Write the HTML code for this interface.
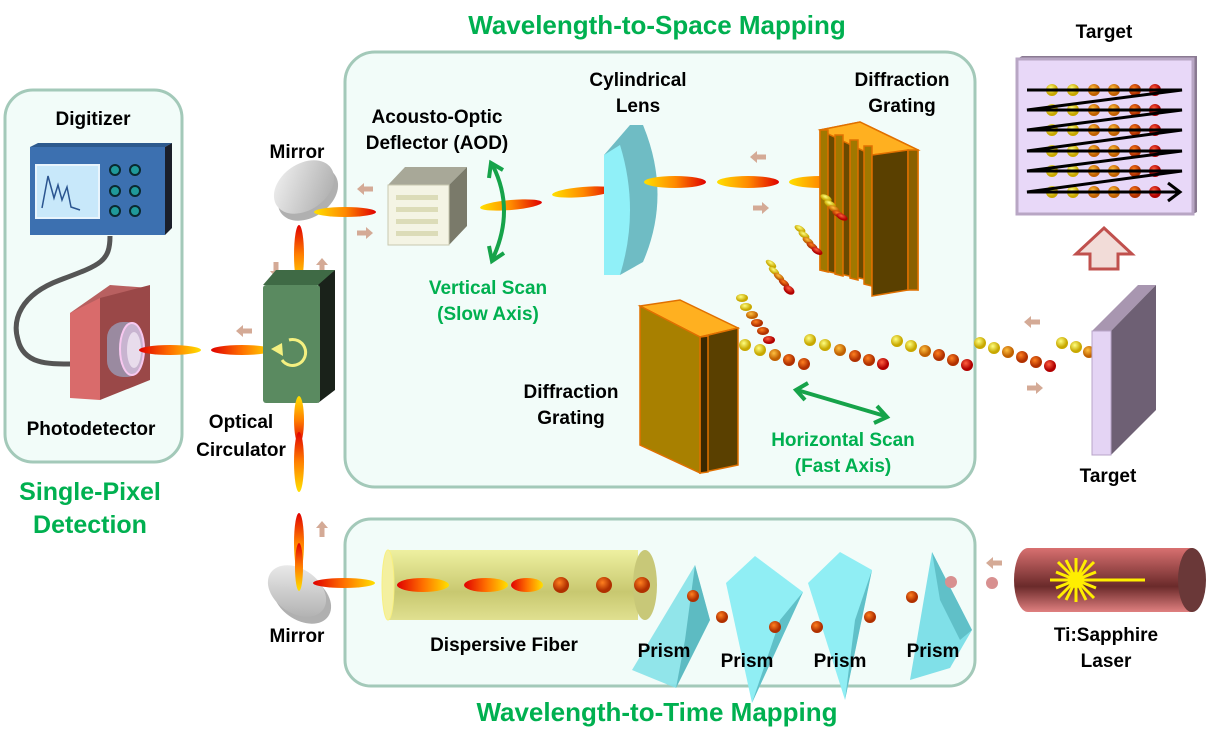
<!DOCTYPE html>
<html><head><meta charset="utf-8"><style>
body{margin:0;background:#fff}
svg{display:block}
text{font-family:"Liberation Sans",sans-serif;font-weight:bold}
</style></head><body>
<svg width="1211" height="746" viewBox="0 0 1211 746" xmlns="http://www.w3.org/2000/svg">
<defs>
<linearGradient id="p" x1="0" x2="1" y1="0" y2="0"><stop offset="0" stop-color="#ffe000"/><stop offset="0.5" stop-color="#ff8a00"/><stop offset="1" stop-color="#e00000"/></linearGradient>
<linearGradient id="pr" x1="0" x2="1"><stop offset="0" stop-color="#e00000"/><stop offset="0.5" stop-color="#ff7000"/><stop offset="1" stop-color="#ffe000"/></linearGradient>
<linearGradient id="pv" x1="0" x2="0" y1="0" y2="1"><stop offset="0" stop-color="#e00000"/><stop offset="0.5" stop-color="#ff8000"/><stop offset="1" stop-color="#ffe000"/></linearGradient>
<radialGradient id="by" cx="0.4" cy="0.35"><stop offset="0" stop-color="#ffff80"/><stop offset="1" stop-color="#c8a800"/></radialGradient>
<radialGradient id="bo" cx="0.4" cy="0.35"><stop offset="0" stop-color="#ffc040"/><stop offset="1" stop-color="#c06000"/></radialGradient>
<radialGradient id="brd" cx="0.4" cy="0.35"><stop offset="0" stop-color="#ff6040"/><stop offset="1" stop-color="#b00000"/></radialGradient>
<radialGradient id="bor" cx="0.4" cy="0.35"><stop offset="0" stop-color="#ff8020"/><stop offset="1" stop-color="#b03000"/></radialGradient>
<linearGradient id="fib" x1="0" x2="0" y1="0" y2="1"><stop offset="0" stop-color="#eef0a0"/><stop offset="0.6" stop-color="#c8c870"/><stop offset="1" stop-color="#e0e090"/></linearGradient>
<linearGradient id="las" x1="0" x2="0" y1="0" y2="1"><stop offset="0" stop-color="#d87070"/><stop offset="0.6" stop-color="#6a2a2a"/><stop offset="1" stop-color="#e08080"/></linearGradient>
<linearGradient id="mir" x1="0" x2="1" y1="0" y2="1"><stop offset="0" stop-color="#f4f4f4"/><stop offset="1" stop-color="#a8a8a8"/></linearGradient>
<g id="ar"><path d="M0,0 L7,-6 L7,-2.5 L16,-2.5 L16,2.5 L7,2.5 L7,6 Z" fill="#d4aa96"/></g>
<g id="rw"><circle cx="1052" cy="0" r="6" fill="url(#by)"/><circle cx="1073" cy="0" r="6" fill="url(#by)"/><circle cx="1094" cy="0" r="6" fill="url(#bo)"/><circle cx="1114" cy="0" r="6" fill="url(#bo)"/><circle cx="1135" cy="0" r="6" fill="url(#bor)"/><circle cx="1155" cy="0" r="6" fill="url(#brd)"/></g>
</defs>

<!-- boxes -->
<rect x="5" y="90" width="177" height="372" rx="28" fill="#f2fcf9" stroke="#a3c9b9" stroke-width="3"/>
<rect x="345" y="52" width="630" height="435" rx="30" fill="#f2fcf9" stroke="#a3c9b9" stroke-width="3"/>
<rect x="345" y="519" width="630" height="167" rx="26" fill="#f2fcf9" stroke="#a3c9b9" stroke-width="3"/>

<!-- titles -->
<text x="657" y="34" font-size="26" fill="#00b050" text-anchor="middle">Wavelength-to-Space Mapping</text>
<text x="657" y="721" font-size="26" fill="#00b050" text-anchor="middle">Wavelength-to-Time Mapping</text>
<text x="90" y="500" font-size="25" fill="#00b050" text-anchor="middle">Single-Pixel</text>
<text x="90" y="533" font-size="25" fill="#00b050" text-anchor="middle">Detection</text>

<!-- digitizer -->
<polygon points="30,147 38,143 172,143 165,147" fill="#2d5a8e"/>
<polygon points="165,147 172,143 172,228 165,235" fill="#1a1f2a"/>
<rect x="30" y="147" width="135" height="88" fill="#3c70b0"/>
<rect x="36" y="165" width="63" height="53" fill="#c8e8fa" stroke="#e8f4fc" stroke-width="2"/>
<path d="M42,208 L48,176 L54,198 L58,185 L62,200 L67,187 L71,207 L80,210" fill="none" stroke="#2b5590" stroke-width="1.5"/>
<g fill="#1f9a9a" stroke="#0a2a30" stroke-width="2">
<circle cx="115" cy="170" r="5"/><circle cx="135" cy="170" r="5"/>
<circle cx="115" cy="191" r="5"/><circle cx="135" cy="191" r="5"/>
<circle cx="115" cy="211" r="5"/><circle cx="135" cy="211" r="5"/></g>
<text x="93" y="125" font-size="19" text-anchor="middle">Digitizer</text>
<!-- cable -->
<path d="M110,236 C110,262 100,265 60,280 C20,295 12,320 18,340 C24,365 50,364 72,364" fill="none" stroke="#555" stroke-width="5"/>
<!-- photodetector -->
<polygon points="70,313 110,285 150,288 140,300" fill="#b86060"/>
<polygon points="100,298 150,285 150,380 100,400" fill="#9a4848"/>
<polygon points="70,313 100,298 100,400 70,398" fill="#d96b6b"/>
<rect x="107" y="322" width="36" height="55" rx="16" fill="#9a8aa0"/>
<ellipse cx="132" cy="349" rx="12" ry="26" fill="#c8b4d0" stroke="#f8c8f0" stroke-width="2"/>
<ellipse cx="134" cy="350" rx="7" ry="18" fill="#e8dcec"/>
<text x="91" y="435" font-size="19" text-anchor="middle">Photodetector</text>

<!-- pulses near photodetector / circulator -->
<ellipse cx="170" cy="350" rx="31" ry="5" fill="url(#pr)"/>
<ellipse cx="242" cy="350" rx="31" ry="5" fill="url(#pr)"/>
<use href="#ar" x="236" y="331"/>

<!-- top mirror -->
<ellipse cx="308" cy="194" rx="33" ry="23" transform="rotate(-35 308 194)" fill="#b0b0b0"/>
<ellipse cx="304" cy="187" rx="33" ry="23" transform="rotate(-35 304 187)" fill="url(#mir)"/>
<text x="297" y="158" font-size="19" text-anchor="middle">Mirror</text>
<ellipse cx="345" cy="212" rx="31" ry="5" fill="url(#p)"/>
<ellipse cx="299" cy="255" rx="5" ry="30" fill="url(#pv)"/>
<use href="#ar" transform="translate(276,278) rotate(-90)"/>
<use href="#ar" transform="translate(322,258) rotate(90)"/>
<use href="#ar" x="357" y="189"/>
<use href="#ar" transform="translate(373,233) rotate(180)"/>

<!-- circulator -->
<polygon points="263,285 276,270 335,270 320,285" fill="#3f6a45"/>
<ellipse cx="299" cy="290" rx="11" ry="5" fill="#111"/>
<polygon points="318,285 335,270 335,390 318,403" fill="#1a221a"/>
<rect x="263" y="285" width="57" height="118" rx="3" fill="#5a8a60"/>
<path d="M289,340 A13,13 0 1 1 282,360" fill="none" stroke="#f4f080" stroke-width="3"/>
<polygon points="271,349 282,343 283,356" fill="#f4f080"/>
<text x="241" y="428" font-size="19" text-anchor="middle">Optical</text>
<text x="241" y="456" font-size="19" text-anchor="middle">Circulator</text>
<ellipse cx="299" cy="420" rx="5" ry="24" fill="url(#pv)" transform="rotate(180 299 420)"/>
<ellipse cx="299" cy="462" rx="5" ry="30" fill="url(#pv)"/>
<ellipse cx="299" cy="543" rx="5" ry="30" fill="url(#pv)"/>
<use href="#ar" transform="translate(322,521) rotate(90)"/>

<!-- bottom mirror -->
<ellipse cx="302" cy="598" rx="32" ry="22" transform="rotate(35 302 598)" fill="#b0b0b0"/>
<ellipse cx="297" cy="591" rx="32" ry="22" transform="rotate(35 297 591)" fill="url(#mir)"/>
<ellipse cx="299" cy="567" rx="4" ry="24" fill="url(#pv)"/>
<ellipse cx="344" cy="583" rx="31" ry="5" fill="url(#pr)"/>
<text x="297" y="642" font-size="19" text-anchor="middle">Mirror</text>

<!-- AOD -->
<text x="437" y="123" font-size="19" text-anchor="middle">Acousto-Optic</text>
<text x="437" y="149" font-size="19" text-anchor="middle">Deflector (AOD)</text>
<polygon points="388,185 405,167 467,167 449,185" fill="#a8a898"/>
<polygon points="449,185 467,167 467,226 449,245" fill="#7a7a6a"/>
<rect x="388" y="185" width="61" height="60" fill="#f4f4e4" stroke="#c8c8b0"/>
<g fill="#dcdcb8"><rect x="396" y="195" width="42" height="5"/><rect x="396" y="207" width="42" height="5"/><rect x="396" y="219" width="42" height="5"/><rect x="396" y="231" width="42" height="5"/></g>
<ellipse cx="511" cy="205" rx="31" ry="5" fill="url(#p)" transform="rotate(-5 511 205)"/>
<path d="M493,166 Q515,210 493,258" fill="none" stroke="#16a34a" stroke-width="4"/>
<polyline points="489,178 491,163 503,170" fill="none" stroke="#16a34a" stroke-width="4"/>
<polyline points="489,246 492,261 504,253" fill="none" stroke="#16a34a" stroke-width="4"/>
<text x="488" y="294" font-size="19" fill="#00b050" text-anchor="middle">Vertical Scan</text>
<text x="488" y="320" font-size="19" fill="#00b050" text-anchor="middle">(Slow Axis)</text>
<ellipse cx="583" cy="192" rx="31" ry="5" fill="url(#p)" transform="rotate(-5 583 192)"/>

<!-- lens -->
<text x="638" y="86" font-size="19" text-anchor="middle">Cylindrical</text>
<text x="638" y="112" font-size="19" text-anchor="middle">Lens</text>
<path d="M604,155 L630,125 L643,125 Q672,195 643,262 L620,275 L604,275 Z" fill="#6fbcc4"/>
<path d="M604,155 L620,145 Q640,210 620,275 L604,275 Z" fill="#90f0f8"/>
<ellipse cx="675" cy="182" rx="31" ry="6" fill="url(#p)"/>
<ellipse cx="748" cy="182" rx="31" ry="6" fill="url(#p)"/>
<ellipse cx="820" cy="182" rx="31" ry="6" fill="url(#p)"/>
<use href="#ar" x="750" y="157"/>
<use href="#ar" transform="translate(769,208) rotate(180)"/>

<!-- top grating -->
<text x="902" y="86" font-size="19" text-anchor="middle">Diffraction</text>
<text x="902" y="112" font-size="19" text-anchor="middle">Grating</text>
<g stroke="#e07000" stroke-width="1.5">
<polygon points="820,130 860,122 918,150 918,290 820,270" fill="#6a4a00"/>
<polygon points="820,130 860,122 918,150 872,155" fill="#ffb020"/>
<g fill="#a07800"><polygon points="820,130 828,130 828,272 820,270"/><polygon points="835,135 843,135 843,276 835,274"/><polygon points="850,140 858,140 858,280 850,278"/><polygon points="864,146 872,146 872,286 864,284"/></g>
<polygon points="872,155 908,150 908,290 872,296" fill="#5a4000"/>
<polygon points="908,150 918,150 918,290 908,290" fill="#8a6000"/>
</g>

<!-- diffracted beams -->
<g>
<ellipse cx="826" cy="198" rx="6" ry="3" fill="url(#by)" transform="rotate(25 826 198)"/><ellipse cx="830" cy="204" rx="6" ry="3" fill="url(#by)" transform="rotate(25 830 204)"/><ellipse cx="834" cy="209" rx="6" ry="3" fill="url(#bo)" transform="rotate(25 834 209)"/><ellipse cx="838" cy="214" rx="6" ry="3" fill="url(#bor)" transform="rotate(25 838 214)"/><ellipse cx="842" cy="217" rx="6" ry="3" fill="url(#brd)" transform="rotate(25 842 217)"/>
<ellipse cx="800" cy="229" rx="6" ry="3" fill="url(#by)" transform="rotate(30 800 229)"/><ellipse cx="804" cy="235" rx="6" ry="3" fill="url(#by)" transform="rotate(30 804 235)"/><ellipse cx="808" cy="241" rx="6" ry="3" fill="url(#bo)" transform="rotate(30 808 241)"/><ellipse cx="812" cy="246" rx="6" ry="3" fill="url(#bor)" transform="rotate(30 812 246)"/><ellipse cx="817" cy="251" rx="6" ry="3" fill="url(#brd)" transform="rotate(30 817 251)"/>
<ellipse cx="771" cy="264" rx="6" ry="3" fill="url(#by)" transform="rotate(35 771 264)"/><ellipse cx="774" cy="271" rx="6" ry="3" fill="url(#by)" transform="rotate(35 774 271)"/><ellipse cx="779" cy="277" rx="6" ry="3" fill="url(#bo)" transform="rotate(35 779 277)"/><ellipse cx="784" cy="283" rx="6" ry="3" fill="url(#bor)" transform="rotate(35 784 283)"/><ellipse cx="789" cy="290" rx="6" ry="4" fill="url(#brd)" transform="rotate(35 789 290)"/>
<ellipse cx="742" cy="298" rx="6" ry="4" fill="url(#by)"/><ellipse cx="746" cy="307" rx="6" ry="4" fill="url(#by)"/><ellipse cx="752" cy="315" rx="6" ry="4" fill="url(#bo)"/><ellipse cx="757" cy="323" rx="6" ry="4" fill="url(#bor)"/><ellipse cx="763" cy="331" rx="6" ry="4" fill="url(#bor)"/><ellipse cx="769" cy="340" rx="6" ry="4" fill="url(#brd)"/>
</g>

<!-- bottom grating -->
<text x="571" y="398" font-size="19" text-anchor="middle">Diffraction</text>
<text x="571" y="424" font-size="19" text-anchor="middle">Grating</text>
<g stroke="#e07000" stroke-width="1.5">
<polygon points="640,306 680,300 738,328 700,337" fill="#ffb020"/>
<polygon points="700,337 738,328 738,465 700,473" fill="#5a4000"/>
<polygon points="700,337 708,336 708,472 700,473" fill="#3a2800"/>
<polygon points="640,306 700,337 700,473 640,445" fill="#a88000"/>
</g>

<!-- ball rows -->
<g>
<circle cx="745" cy="345" r="6" fill="url(#by)"/><circle cx="760" cy="350" r="6" fill="url(#by)"/><circle cx="775" cy="355" r="6" fill="url(#bo)"/><circle cx="789" cy="360" r="6" fill="url(#bor)"/><circle cx="804" cy="364" r="6" fill="url(#bor)"/>
<circle cx="810" cy="340" r="6" fill="url(#by)"/><circle cx="825" cy="345" r="6" fill="url(#by)"/><circle cx="840" cy="350" r="6" fill="url(#bo)"/><circle cx="855" cy="356" r="6" fill="url(#bor)"/><circle cx="869" cy="360" r="6" fill="url(#bor)"/><circle cx="883" cy="364" r="6" fill="url(#brd)"/>
<circle cx="897" cy="341" r="6" fill="url(#by)"/><circle cx="911" cy="346" r="6" fill="url(#by)"/><circle cx="925" cy="351" r="6" fill="url(#bo)"/><circle cx="939" cy="355" r="6" fill="url(#bor)"/><circle cx="953" cy="360" r="6" fill="url(#bor)"/><circle cx="967" cy="365" r="6" fill="url(#brd)"/>
<circle cx="980" cy="343" r="6" fill="url(#by)"/><circle cx="994" cy="348" r="6" fill="url(#by)"/><circle cx="1008" cy="352" r="6" fill="url(#bo)"/><circle cx="1022" cy="357" r="6" fill="url(#bor)"/><circle cx="1036" cy="362" r="6" fill="url(#bor)"/><circle cx="1050" cy="366" r="6" fill="url(#brd)"/>
<circle cx="1062" cy="343" r="6" fill="url(#by)"/><circle cx="1076" cy="347" r="6" fill="url(#by)"/><circle cx="1089" cy="352" r="6" fill="url(#bo)"/>
</g>
<path d="M797,390 L885,416" stroke="#16a34a" stroke-width="4"/>
<polyline points="808,383 796,390 805,400" fill="none" stroke="#16a34a" stroke-width="4"/>
<polyline points="877,406 887,417 874,423" fill="none" stroke="#16a34a" stroke-width="4"/>
<text x="843" y="446" font-size="19" fill="#00b050" text-anchor="middle">Horizontal Scan</text>
<text x="843" y="472" font-size="19" fill="#00b050" text-anchor="middle">(Fast Axis)</text>

<!-- right target -->
<use href="#ar" x="1024" y="322"/>
<use href="#ar" transform="translate(1043,388) rotate(180)"/>
<polygon points="1092,331 1138,285 1156,285 1111,331" fill="#a896b0"/>
<polygon points="1111,331 1156,285 1156,410 1111,455" fill="#6e6074"/>
<rect x="1092" y="331" width="19" height="124" fill="#e4d4f4" stroke="#b8a4c8"/>
<text x="1108" y="482" font-size="19" text-anchor="middle">Target</text>

<!-- top target -->
<text x="1104" y="38" font-size="19" text-anchor="middle">Target</text>
<polygon points="1017,59 1022,56 1197,56 1197,212 1193,214" fill="#8a7a92"/>
<rect x="1017" y="59" width="176" height="155" fill="#e8d8f8" stroke="#b8a6c4" stroke-width="3"/>
<use href="#rw" y="90"/><use href="#rw" y="110"/><use href="#rw" y="130"/><use href="#rw" y="151"/><use href="#rw" y="171"/><use href="#rw" y="192"/>
<g stroke="#000" stroke-width="3" fill="none">
<path d="M1027,90 L1182,90 L1027,110 L1182,110 L1027,130 L1182,130 L1027,151 L1182,151 L1027,171 L1182,171 L1027,192 L1180,192"/>
<polyline points="1168,183 1180,192 1168,201"/>
</g>
<polygon points="1104,228 1132,254 1118,254 1118,269 1090,269 1090,254 1076,254" fill="#f2dcd8" stroke="#c0504d" stroke-width="3"/>

<!-- bottom: fiber -->
<rect x="388" y="550" width="250" height="70" fill="url(#fib)"/>
<ellipse cx="388" cy="585" rx="6" ry="35" fill="#f4f0a0" stroke="#f8f080"/>
<ellipse cx="645" cy="585" rx="12" ry="35" fill="#c8c878"/>
<ellipse cx="423" cy="585" rx="26" ry="7" fill="url(#pr)"/>
<ellipse cx="486" cy="585" rx="22" ry="7" fill="url(#pr)"/>
<ellipse cx="527" cy="585" rx="16" ry="7" fill="url(#pr)"/>
<circle cx="561" cy="585" r="8" fill="url(#bor)"/>
<circle cx="604" cy="585" r="8" fill="url(#bor)"/>
<circle cx="642" cy="585" r="8" fill="url(#bor)"/>
<text x="504" y="651" font-size="19" text-anchor="middle">Dispersive Fiber</text>

<!-- prisms -->
<polygon points="632,670 695,565 710,620 676,688" fill="#80e0e8" opacity="0.85"/>
<polygon points="695,565 710,620 676,688 685,640" fill="#50b0b8" opacity="0.8"/>
<circle cx="693" cy="596" r="6" fill="url(#bor)"/>
<polygon points="726,583 755,556 803,592 752,703" fill="#90eef4"/>
<polygon points="803,592 780,620 752,703" fill="#60c0c8"/>
<polygon points="808,583 840,552 872,570 845,700" fill="#90eef4"/>
<polygon points="872,570 855,620 845,700" fill="#60c0c8"/>
<polygon points="910,680 932,552 972,630 950,668" fill="#80e0e8"/>
<polygon points="932,552 972,630 960,640 940,600" fill="#60c0c8"/>
<circle cx="722" cy="617" r="6" fill="url(#bor)"/>
<circle cx="775" cy="627" r="6" fill="url(#bor)"/>
<circle cx="817" cy="627" r="6" fill="url(#bor)"/>
<circle cx="870" cy="617" r="6" fill="url(#bor)"/>
<circle cx="912" cy="597" r="6" fill="url(#bor)"/>
<circle cx="951" cy="582" r="6" fill="#d89090"/>
<circle cx="992" cy="583" r="6" fill="#d89090"/>
<use href="#ar" x="986" y="563"/>
<text x="664" y="657" font-size="19" text-anchor="middle">Prism</text>
<text x="747" y="667" font-size="19" text-anchor="middle">Prism</text>
<text x="840" y="667" font-size="19" text-anchor="middle">Prism</text>
<text x="933" y="657" font-size="19" text-anchor="middle">Prism</text>

<!-- laser -->
<rect x="1028" y="548" width="165" height="64" fill="url(#las)"/>
<ellipse cx="1028" cy="580" rx="14" ry="32" fill="url(#las)"/>
<ellipse cx="1192" cy="580" rx="14" ry="32" fill="#6a3838"/>
<g stroke="#ffee00" stroke-width="3">
<line x1="1050" y1="580" x2="1145" y2="580"/>
<line x1="1076" y1="558" x2="1076" y2="602"/><line x1="1058" y1="562" x2="1094" y2="598"/><line x1="1094" y1="562" x2="1058" y2="598"/><line x1="1066" y1="560" x2="1086" y2="600"/><line x1="1086" y1="560" x2="1066" y2="600"/><line x1="1056" y1="572" x2="1096" y2="588"/><line x1="1056" y1="588" x2="1096" y2="572"/>
</g>
<circle cx="1076" cy="580" r="8" fill="#ffee00"/>
<text x="1106" y="641" font-size="19" text-anchor="middle">Ti:Sapphire</text>
<text x="1106" y="667" font-size="19" text-anchor="middle">Laser</text>
</svg>
</body></html>
